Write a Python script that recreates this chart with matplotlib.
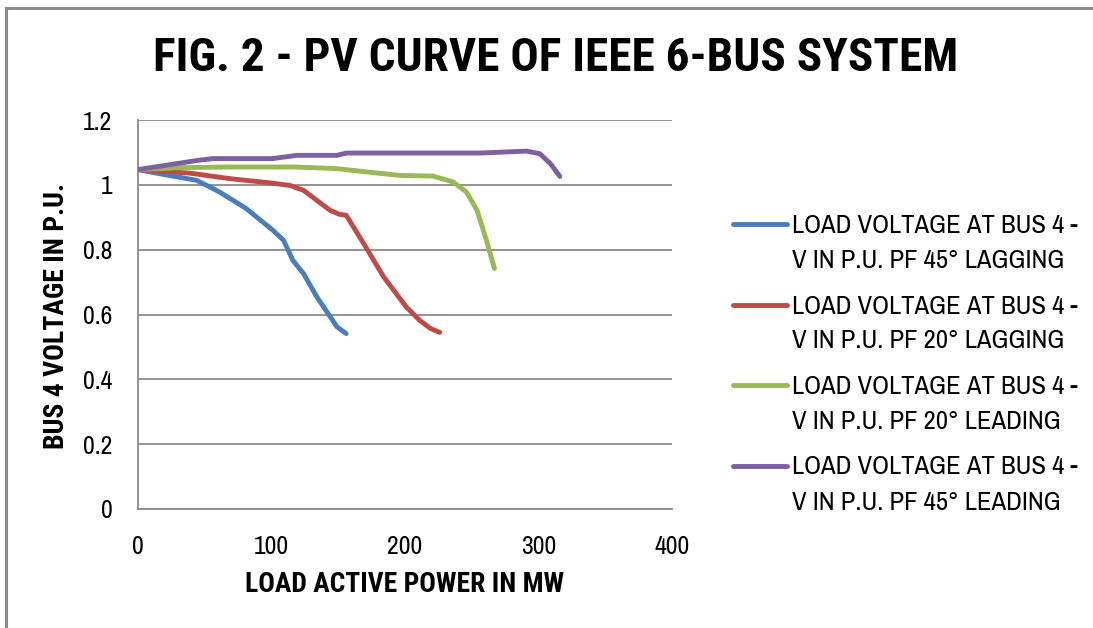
import matplotlib
matplotlib.use("Agg")
import matplotlib.pyplot as plt
from matplotlib.lines import Line2D
from matplotlib import font_manager

# ---------------- data ----------------
p_45_lag = [0, 19, 44, 61, 81, 101, 109, 116, 124, 134, 144, 149, 156]
v_45_lag = [1.047, 1.032, 1.014, 0.978, 0.927, 0.860, 0.829, 0.767, 0.726, 0.654, 0.593, 0.562, 0.541]

p_20_lag = [0, 39, 69, 99, 114, 124, 144, 151, 156, 169, 184, 201, 211, 219, 226]
v_20_lag = [1.047, 1.036, 1.019, 1.006, 0.998, 0.983, 0.921, 0.909, 0.906, 0.819, 0.716, 0.623, 0.582, 0.557, 0.545]

p_20_lead = [0, 31, 69, 118, 149, 171, 196, 221, 236, 246, 254, 261, 267]
v_20_lead = [1.047, 1.053, 1.055, 1.055, 1.050, 1.040, 1.029, 1.027, 1.009, 0.978, 0.921, 0.829, 0.742]

p_45_lead = [0, 44, 56, 101, 119, 149, 156, 218, 256, 291, 301, 309, 316]
v_45_lead = [1.047, 1.075, 1.081, 1.081, 1.091, 1.091, 1.098, 1.098, 1.098, 1.104, 1.096, 1.065, 1.026]

labels = [
    "LOAD VOLTAGE AT BUS 4 -\nV IN P.U. PF 45\u00b0 LAGGING",
    "LOAD VOLTAGE AT BUS 4 -\nV IN P.U. PF 20\u00b0 LAGGING",
    "LOAD VOLTAGE AT BUS 4 -\nV IN P.U. PF 20\u00b0 LEADING",
    "LOAD VOLTAGE AT BUS 4 -\nV IN P.U. PF 45\u00b0 LEADING",
]
colors = ["#4A7EBB", "#BE4B48", "#98B954", "#7D60A0"]
x_ticks = [0, 100, 200, 300, 400]
y_ticks = [0, 0.2, 0.4, 0.6, 0.8, 1.0, 1.2]
y_tick_labels = ["0", "0.2", "0.4", "0.6", "0.8", "1", "1.2"]
title = "FIG. 2 - PV CURVE OF IEEE 6-BUS SYSTEM"
x_label = "LOAD ACTIVE POWER IN MW"
y_label = "BUS 4 VOLTAGE IN P.U."

# ---------------- fonts ----------------
def _w(f):
    w = f.weight
    if isinstance(w, str):
        return 700 if "bold" in w.lower() else 400
    return int(w)

regular_cands = ["Liberation Sans Narrow", "Archivo Narrow", "Roboto Condensed"]
bold_cands = ["Liberation Sans Narrow", "Roboto Condensed", "PT Sans Narrow", "Arimo Narrow",
              "IBM Plex Sans Condensed", "Fira Sans Condensed", "Encode Sans Condensed",
              "Archivo Narrow", "Barlow Condensed", "Saira SemiCondensed"]
fl = font_manager.fontManager.ttflist
names = set(f.name for f in fl)
reg_fam = next((c for c in regular_cands if c in names), "DejaVu Sans")
bold_fam = next((c for c in bold_cands if any(f.name == c and _w(f) >= 700 for f in fl)), reg_fam)
plt.rcParams['font.family'] = [reg_fam, 'DejaVu Sans']
BOLD = [bold_fam, 'DejaVu Sans']

W, H = 1093, 628
fig = plt.figure(figsize=(W / 100, H / 100), dpi=100)
fig.patch.set_facecolor("white")

# outer chart border (left & top visible)
fig.add_artist(Line2D([6 / W, 6 / W], [1 - 8 / H, 0], color="#8c8c8c", lw=2.2))
fig.add_artist(Line2D([6 / W, 1], [1 - 8 / H, 1 - 8 / H], color="#8c8c8c", lw=2.2))

ax = fig.add_axes([138 / W, 1 - 509 / H, 534 / W, 389 / H])
series = [(p_45_lag, v_45_lag), (p_20_lag, v_20_lag), (p_20_lead, v_20_lead), (p_45_lead, v_45_lead)]
for (px, vy), c in zip(series, colors):
    ax.plot(px, vy, color=c, lw=3.5, solid_capstyle="round", solid_joinstyle="round", zorder=3)

ax.set_xlim(0, 400)
ax.set_ylim(0, 1.2)
ax.set_xticks(x_ticks)
ax.set_yticks(y_ticks)
ax.set_yticklabels(y_tick_labels)
ax.grid(axis="y", color="#8a8a8a", lw=1.3)
ax.set_axisbelow(True)
for s in ["top", "right"]:
    ax.spines[s].set_visible(False)
for s in ["left", "bottom"]:
    ax.spines[s].set_color("#8a8a8a")
    ax.spines[s].set_linewidth(1.3)
ax.tick_params(length=0, labelsize=18.5)
ax.tick_params(axis="x", pad=19)
ax.tick_params(axis="y", pad=18.5)

xl = ax.set_xlabel(x_label, fontsize=17.5, family=BOLD, fontweight="bold", va="center")
ax.xaxis.set_label_coords(0.5, (509 - 584) / 389)
yl = ax.set_ylabel(y_label, fontsize=17.5, family=BOLD, fontweight="bold", va="center")
ax.yaxis.set_label_coords((56 - 138) / 534, (509 - 316) / 389)

tt = fig.text(556 / W, 1 - 58 / H, title, ha="center", va="center",
              fontsize=34, family=BOLD, fontweight="bold")

# legend (drawn manually: handle at first line of each label, 35 px line pitch)
leg_texts = []
for i, (lab, c) in enumerate(zip(labels, colors)):
    yc = 224 + i * 80.5
    fig.add_artist(Line2D([733 / W, 787 / W], [1 - yc / H, 1 - yc / H], color=c, lw=3.5,
                          solid_capstyle="round"))
    for j, line in enumerate(lab.split("\n")):
        leg_texts.append(fig.text(792 / W, 1 - (yc + 9 + 35 * j) / H, line, ha="left",
                                  va="baseline", fontsize=18.5))

# fit text sizes to the reference's measured extents
def fit(t, target, horizontal=True):
    fig.canvas.draw()
    bb = t.get_window_extent()
    cur = bb.width if horizontal else bb.height
    t.set_fontsize(t.get_fontsize() * target / cur)

fit(tt, 806)
fit(xl, 318)
fit(yl, 266, horizontal=False)
fit(leg_texts[0], 285)
for t in leg_texts[1:]:
    t.set_fontsize(leg_texts[0].get_fontsize())

fig.savefig("out.png", dpi=100, facecolor="white")
